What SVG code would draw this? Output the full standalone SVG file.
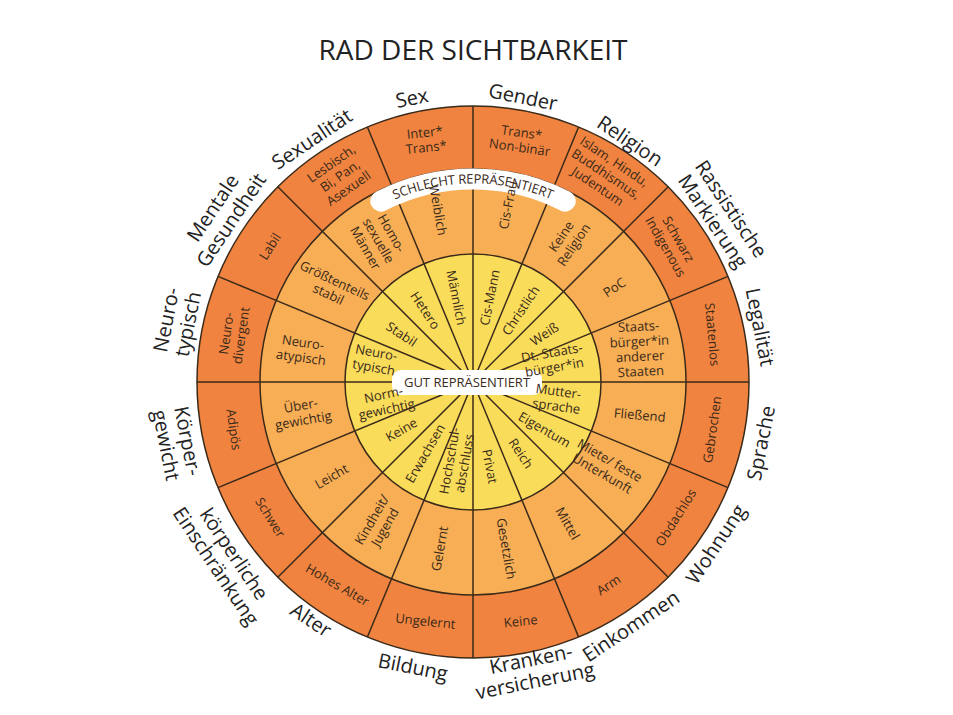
<svg xmlns="http://www.w3.org/2000/svg" width="953" height="715" viewBox="0 0 953 715">
<style>
.t{font-family:"Open Sans","Liberation Sans",sans-serif;font-size:13px;fill:#3a2a1a;text-anchor:middle}
.l{font-family:"Open Sans","Liberation Sans",sans-serif;font-size:20px;fill:#222;text-anchor:middle}
.ln{stroke:#3a2a1a;stroke-width:1.5}
.c{stroke:#3a2a1a;stroke-width:1.5}
</style>
<rect width="953" height="715" fill="#fff"/>
<text x="473" y="60" font-family="Open Sans,Liberation Sans,sans-serif" font-size="28" font-weight="500" fill="#222" text-anchor="middle">RAD DER SICHTBARKEIT</text>
<g id="wheel">
<circle cx="473" cy="382" r="276" fill="#F0833F" class="c"/>
<circle cx="473" cy="382" r="213" fill="#F7AE55" class="c"/>
<circle cx="473" cy="382" r="128" fill="#F9DC5A" class="c"/>
</g>
<g id="connectors">
<line class="ln" x1="473" y1="382" x2="473" y2="106"/>
<line class="ln" x1="473" y1="382" x2="578.6" y2="127.0"/>
<line class="ln" x1="473" y1="382" x2="668.2" y2="186.8"/>
<line class="ln" x1="473" y1="382" x2="728.0" y2="276.4"/>
<line class="ln" x1="473" y1="382" x2="749" y2="382"/>
<line class="ln" x1="473" y1="382" x2="728.0" y2="487.6"/>
<line class="ln" x1="473" y1="382" x2="668.2" y2="577.2"/>
<line class="ln" x1="473" y1="382" x2="578.6" y2="637.0"/>
<line class="ln" x1="473" y1="382" x2="473" y2="658"/>
<line class="ln" x1="473" y1="382" x2="367.4" y2="637.0"/>
<line class="ln" x1="473" y1="382" x2="277.8" y2="577.2"/>
<line class="ln" x1="473" y1="382" x2="218.0" y2="487.6"/>
<line class="ln" x1="473" y1="382" x2="197" y2="382"/>
<line class="ln" x1="473" y1="382" x2="218.0" y2="276.4"/>
<line class="ln" x1="473" y1="382" x2="277.8" y2="186.8"/>
<line class="ln" x1="473" y1="382" x2="367.4" y2="127.0"/>
</g>
<g id="bands">
<path id="arcS" d="M380.8,201.1 A203,203 0 0 1 565.2,201.1" fill="none" stroke="#fff" stroke-width="21" stroke-linecap="round"/>
<text class="t" font-size="12" dy="4.5"><textPath href="#arcS" startOffset="50%">SCHLECHT REPRÄSENTIERT</textPath></text>
<rect x="392" y="370" width="150" height="25" rx="9" fill="#fff"/>
<text class="t" x="467" y="387" font-size="12">GUT REPRÄSENTIERT</text>
</g>
<!-- inner ring r=86 -->
<g id="inner">
<g transform="translate(489.8,297.6) rotate(-78.75)"><text class="t" y="4.5">Cis-Mann</text></g>
<g transform="translate(520.8,310.5) rotate(-56.25)"><text class="t" y="4.5">Christlich</text></g>
<g transform="translate(544.5,334.2) rotate(-33.75)"><text class="t" y="4.5">Weiß</text></g>
<g transform="translate(553,360) rotate(-10)"><text class="t"><tspan x="0" y="-3">Dt. Staats-</tspan><tspan x="0" y="12">bürger*in</tspan></text></g>
<g transform="translate(557.4,398.8) rotate(8)"><text class="t"><tspan x="0" y="-3">Mutter-</tspan><tspan x="0" y="12">sprache</tspan></text></g>
<g transform="translate(544.5,429.8) rotate(30)"><text class="t" y="4.5">Eigentum</text></g>
<g transform="translate(520.8,453.5) rotate(56.25)"><text class="t" y="4.5">Reich</text></g>
<g transform="translate(489.8,466.4) rotate(78.75)"><text class="t" y="4.5">Privat</text></g>
<g transform="translate(457,462) rotate(-80)"><text class="t"><tspan x="0" y="-3">Hochschul-</tspan><tspan x="0" y="12">abschluss</tspan></text></g>
<g transform="translate(425.2,453.5) rotate(-60)"><text class="t" y="4.5">Erwachsen</text></g>
<g transform="translate(401.5,429.8) rotate(-30)"><text class="t" y="4.5">Keine</text></g>
<g transform="translate(385,402) rotate(-12)"><text class="t"><tspan x="0" y="-3">Norm-</tspan><tspan x="0" y="12">gewichtig</tspan></text></g>
<g transform="translate(375,360) rotate(10)"><text class="t"><tspan x="0" y="-3">Neuro-</tspan><tspan x="0" y="12">typisch</tspan></text></g>
<g transform="translate(401.5,334.2) rotate(33.75)"><text class="t" y="4.5">Stabil</text></g>
<g transform="translate(425.2,310.5) rotate(56.25)"><text class="t" y="4.5">Hetero</text></g>
<g transform="translate(456.2,297.6) rotate(78.75)"><text class="t" y="4.5">Männlich</text></g>
</g>
<g id="middle">
<g transform="translate(508,205) rotate(-78.75)"><text class="t" y="4.5">Cis-Frau</text></g>
<g transform="translate(567.5,240.6) rotate(-56.25)"><text class="t"><tspan x="0" y="-3">Keine</tspan><tspan x="0" y="12">Religion</tspan></text></g>
<g transform="translate(614.4,287.5) rotate(-33.75)"><text class="t" y="4.5">PoC</text></g>
<g transform="translate(639.7,349) rotate(-3)"><text class="t"><tspan x="0" y="-18">Staats-</tspan><tspan x="0" y="-3">bürger*in</tspan><tspan x="0" y="12">anderer</tspan><tspan x="0" y="27">Staaten</tspan></text></g>
<g transform="translate(639.7,415.2) rotate(5)"><text class="t" y="4.5">Fließend</text></g>
<g transform="translate(606,467) rotate(30)"><text class="t"><tspan x="0" y="-3">Miete/ feste</tspan><tspan x="0" y="12">Unterkunft</tspan></text></g>
<g transform="translate(567.5,523.4) rotate(60)"><text class="t" y="4.5">Mittel</text></g>
<g transform="translate(506.2,548.7) rotate(80)"><text class="t" y="4.5">Gesetzlich</text></g>
<g transform="translate(439.8,548.7) rotate(-80)"><text class="t" y="4.5">Gelernt</text></g>
<g transform="translate(378.5,523.4) rotate(-60)"><text class="t"><tspan x="0" y="-3">Kindheit/</tspan><tspan x="0" y="12">Jugend</tspan></text></g>
<g transform="translate(331.6,476.5) rotate(-30)"><text class="t" y="4.5">Leicht</text></g>
<g transform="translate(302,413) rotate(-10)"><text class="t"><tspan x="0" y="-3">Über-</tspan><tspan x="0" y="12">gewichtig</tspan></text></g>
<g transform="translate(302,350) rotate(8)"><text class="t"><tspan x="0" y="-3">Neuro-</tspan><tspan x="0" y="12">atypisch</tspan></text></g>
<g transform="translate(331.6,287.5) rotate(25)"><text class="t"><tspan x="0" y="-3">Größtenteils</tspan><tspan x="0" y="12">stabil</tspan></text></g>
<g transform="translate(378.5,240.6) rotate(60)"><text class="t"><tspan x="0" y="-10.5">Homo-</tspan><tspan x="0" y="4.5">sexuelle</tspan><tspan x="0" y="19.5">Männer</tspan></text></g>
<g transform="translate(438,210) rotate(80)"><text class="t" y="4.5">Weiblich</text></g>
</g>
<g id="outer">
<g transform="translate(520.6,140) rotate(8)"><text class="t"><tspan x="0" y="-3">Trans*</tspan><tspan x="0" y="12">Non-binär</tspan></text></g>
<g transform="translate(606,174) rotate(33.75)"><text class="t"><tspan x="0" y="-10.5">Islam, Hindu,</tspan><tspan x="0" y="4.5">Buddhismus,</tspan><tspan x="0" y="19.5">Judentum</tspan></text></g>
<g transform="translate(672,243) rotate(60)"><text class="t"><tspan x="0" y="-3">Schwarz</tspan><tspan x="0" y="12">Indigenous</tspan></text></g>
<g transform="translate(712.3,334.4) rotate(85)"><text class="t" y="4.5">Staatenlos</text></g>
<g transform="translate(712.3,429.6) rotate(-82)"><text class="t" y="4.5">Gebrochen</text></g>
<g transform="translate(675.9,517.6) rotate(-58)"><text class="t" y="4.5">Obdachlos</text></g>
<g transform="translate(608.6,584.9) rotate(-33.75)"><text class="t" y="4.5">Arm</text></g>
<g transform="translate(520.6,621.3) rotate(-6)"><text class="t" y="4.5">Keine</text></g>
<g transform="translate(425.4,621.3) rotate(6)"><text class="t" y="4.5">Ungelernt</text></g>
<g transform="translate(337.4,584.9) rotate(30)"><text class="t" y="4.5">Hohes Alter</text></g>
<g transform="translate(270.1,517.6) rotate(58)"><text class="t" y="4.5">Schwer</text></g>
<g transform="translate(233.7,429.6) rotate(82)"><text class="t" y="4.5">Adipös</text></g>
<g transform="translate(233.7,334.4) rotate(-82)"><text class="t"><tspan x="0" y="-3">Neuro-</tspan><tspan x="0" y="12">divergent</tspan></text></g>
<g transform="translate(270.1,246.4) rotate(-58)"><text class="t" y="4.5">Labil</text></g>
<g transform="translate(340,176) rotate(-35)"><text class="t"><tspan x="0" y="-10.5">Lesbisch,</tspan><tspan x="0" y="4.5">Bi, Pan,</tspan><tspan x="0" y="19.5">Asexuell</tspan></text></g>
<g transform="translate(425.4,140) rotate(-6)"><text class="t"><tspan x="0" y="-3">Inter*</tspan><tspan x="0" y="12">Trans*</tspan></text></g>
</g>
<g id="labels">
<g transform="translate(523,97) rotate(11.25)"><text class="l" y="7">Gender</text></g>
<g transform="translate(630,141) rotate(33.75)"><text class="l" y="7">Religion</text></g>
<g transform="translate(722,215) rotate(56.25)"><text class="l"><tspan x="0" y="-4">Rassistische</tspan><tspan x="0" y="18">Markierung</tspan></text></g>
<g transform="translate(760,327) rotate(78.75)"><text class="l" y="7">Legalität</text></g>
<g transform="translate(761,443) rotate(-78.75)"><text class="l" y="7">Sprache</text></g>
<g transform="translate(715.8,544.2) rotate(-56.25)"><text class="l" y="7">Wohnung</text></g>
<g transform="translate(631,626) rotate(-33.75)"><text class="l" y="7">Einkommen</text></g>
<g transform="translate(533,670) rotate(-11.25)"><text class="l"><tspan x="0" y="-4">Kranken-</tspan><tspan x="0" y="18">versicherung</tspan></text></g>
<g transform="translate(413,667) rotate(11.25)"><text class="l" y="7">Bildung</text></g>
<g transform="translate(311,620) rotate(33.75)"><text class="l" y="7">Alter</text></g>
<g transform="translate(225,560) rotate(56.25)"><text class="l"><tspan x="0" y="-4">körperliche</tspan><tspan x="0" y="18">Einschränkung</tspan></text></g>
<g transform="translate(177,443) rotate(78.75)"><text class="l"><tspan x="0" y="-4">Körper-</tspan><tspan x="0" y="18">gewicht</tspan></text></g>
<g transform="translate(177,322) rotate(-78.75)"><text class="l"><tspan x="0" y="-4">Neuro-</tspan><tspan x="0" y="18">typisch</tspan></text></g>
<g transform="translate(222,214) rotate(-56.25)"><text class="l"><tspan x="0" y="-4">Mentale</tspan><tspan x="0" y="18">Gesundheit</tspan></text></g>
<g transform="translate(312,139) rotate(-33.75)"><text class="l" y="7">Sexualität</text></g>
<g transform="translate(412,98) rotate(-11.25)"><text class="l" y="7">Sex</text></g>
</g>
</svg>
